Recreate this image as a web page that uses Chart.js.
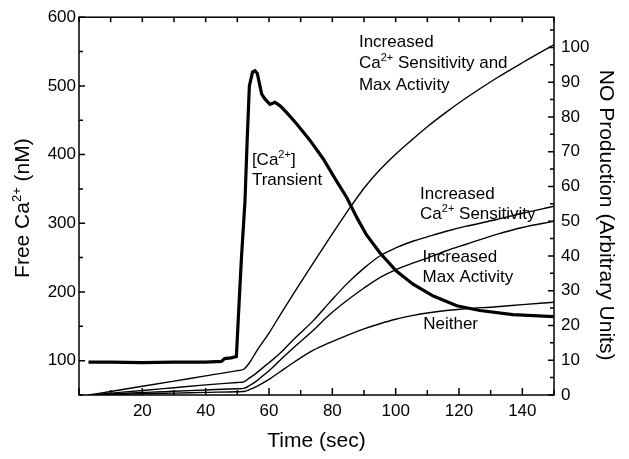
<!DOCTYPE html>
<html>
<head>
<meta charset="utf-8">
<script src="https://cdn.jsdelivr.net/npm/chart.js@4.4.1/dist/chart.umd.min.js"></script>
<style>
  html, body { margin: 0; padding: 0; background: #fff; }
</style>
</head>
<body>
<canvas id="chart" width="629" height="459"></canvas>
<script>
// Ca2+ transient (left axis, nM)
const caTime = [3, 10, 20, 30, 40, 45, 46, 48, 49.7, 50.4, 51.3, 52.4, 53.1, 53.8, 54.8, 55.6, 56.3, 57.7, 58.7, 60.3, 61.9, 63.5, 65.6, 68.7, 72.9, 77.1, 81, 84.5, 88, 90.8, 95, 100.3, 105.6, 111.9, 119.3, 126.6, 137, 150];
const caValues = [98, 98, 97, 98, 98, 99, 103, 104, 106, 170, 250, 331, 420, 500, 520, 522, 518, 488, 481, 473, 476, 471, 461, 445, 421, 394, 364, 338, 306, 283, 257, 230, 211, 194, 180, 173, 167, 164];

// NO production (right axis, arbitrary units)
const noTime = [3, 10, 20, 30, 40, 50, 52, 54, 56, 58, 60, 63.5, 68, 74, 79, 84.5, 90, 95, 100, 105.6, 110, 116, 122, 131.9, 140, 150];
const bothNO = [0, 1.0, 2.5, 4.0, 5.5, 7.0, 7.4, 9.5, 12.5, 15.2, 17.8, 23, 29.5, 38, 45, 52.5, 59.5, 64.8, 69.3, 73.8, 77.2, 81.4, 85.3, 91.2, 95.6, 100.8];
const sensNO = [0, 0.55, 1.3, 2.1, 2.9, 3.6, 3.8, 5, 6.3, 7.8, 9.3, 12, 16.2, 21.4, 26.5, 31.9, 36.5, 40, 42.3, 44.3, 45.5, 47.1, 48.5, 50.5, 52.3, 54.3];
const maxNO = [0, 0.28, 0.7, 1.1, 1.45, 1.8, 1.9, 2.8, 4, 5.5, 7, 10, 13.8, 18.6, 23, 27.1, 30.8, 33.8, 36, 38, 39.4, 41.5, 43.3, 46.2, 48.2, 50];
const neitherNO = [0, 0.14, 0.35, 0.55, 0.75, 0.95, 1.0, 1.6, 2.4, 3.4, 4.5, 6.7, 9.5, 12.9, 15, 17.1, 19, 20.5, 21.8, 22.9, 23.6, 24.3, 24.8, 25.4, 26, 26.7];

const FONT = "'Liberation Sans', Arial, sans-serif";

function pts(xs, ys) {
  return xs.map((x, i) => ({ x: x, y: ys[i] }));
}

// text pieces: [text, isSuperscript]
function richWidth(ctx, parts, size) {
  let w = 0;
  parts.forEach(p => {
    ctx.font = (p[1] ? Math.round(size * 0.62) : size) + 'px ' + FONT;
    w += ctx.measureText(p[0]).width;
  });
  return w;
}
function drawRich(ctx, parts, x, y, size) {
  parts.forEach(p => {
    const s = p[1] ? Math.round(size * 0.62) : size;
    ctx.font = s + 'px ' + FONT;
    ctx.fillText(p[0], x, p[1] ? y - size * 0.4 : y);
    x += ctx.measureText(p[0]).width;
  });
}

// curve labels, anchored at (time, left-axis nM) of the first baseline
const notes = [
  { t: 88.4, ca: 557, gap: 21.5, lines: [[['Increased', 0]], [['Ca', 0], ['2+', 1], [' Sensitivity and', 0]], [['Max Activity', 0]]] },
  { t: 54.6, ca: 385, gap: 20.5, lines: [[['[Ca', 0], ['2+', 1], [']', 0]], [['Transient', 0]]] },
  { t: 107.7, ca: 336, gap: 20, lines: [[['Increased', 0]], [['Ca', 0], ['2+', 1], [' Sensitivity', 0]]] },
  { t: 108.5, ca: 243, gap: 20, lines: [[['Increased', 0]], [['Max Activity', 0]]] },
  { t: 108.7, ca: 146, gap: 20, lines: [[['Neither', 0]]] }
];

const overlay = {
  id: 'overlay',
  afterDraw(chart) {
    const ctx = chart.ctx;
    const a = chart.chartArea;
    const x = chart.scales.x, y = chart.scales.y, y2 = chart.scales.y2;
    ctx.save();
    ctx.strokeStyle = '#000';
    ctx.fillStyle = '#000';
    ctx.lineWidth = 1.5;
    ctx.strokeRect(a.left, a.top, a.right - a.left, a.bottom - a.top);

    // inward tick marks
    ctx.lineWidth = 1.5;
    ctx.beginPath();
    for (let v = 0; v <= 150; v += 10) {
      const px = x.getPixelForValue(v);
      const len = v % 20 === 0 ? 7 : 5;
      ctx.moveTo(px, a.bottom); ctx.lineTo(px, a.bottom - len);
      ctx.moveTo(px, a.top); ctx.lineTo(px, a.top + 5);
    }
    for (let v = 50; v <= 600; v += 50) {
      const py = y.getPixelForValue(v);
      const len = v % 100 === 0 ? 6 : 4;
      ctx.moveTo(a.left, py); ctx.lineTo(a.left + len, py);
    }
    for (let v = 0; v <= 105; v += 5) {
      const py = y2.getPixelForValue(v);
      const len = v % 10 === 0 ? 6 : 4;
      ctx.moveTo(a.right, py); ctx.lineTo(a.right - len, py);
    }
    ctx.stroke();

    // curve labels
    ctx.textBaseline = 'alphabetic';
    ctx.textAlign = 'left';
    notes.forEach(n => {
      const px = x.getPixelForValue(n.t);
      const py = y.getPixelForValue(n.ca);
      n.lines.forEach((ln, i) => drawRich(ctx, ln, px, py + i * n.gap, 17));
    });

    // axis titles
    const cy = (a.top + a.bottom) / 2;
    ctx.font = '21px ' + FONT;
    ctx.textAlign = 'center';
    ctx.fillText('Time (sec)', (a.left + a.right) / 2, 447);

    ctx.textAlign = 'left';
    const leftTitle = [['Free Ca', 0], ['2+', 1], [' (nM)', 0]];
    const lw = richWidth(ctx, leftTitle, 21);
    ctx.save();
    ctx.translate(29, cy + 2);
    ctx.rotate(-Math.PI / 2);
    drawRich(ctx, leftTitle, -lw / 2, 0, 21);
    ctx.restore();

    ctx.save();
    ctx.translate(600, cy + 9);
    ctx.rotate(Math.PI / 2);
    ctx.font = '21px ' + FONT;
    ctx.textAlign = 'center';
    ctx.fillText('NO Production (Arbitrary Units)', 0, 0);
    ctx.restore();
    ctx.restore();
  }
};

const tickFont = { family: FONT, size: 17 };

new Chart(document.getElementById('chart'), {
  type: 'line',
  data: {
    datasets: [
      { label: 'Ca transient', data: pts(caTime, caValues), yAxisID: 'y', borderColor: '#000', borderWidth: 3.2, pointRadius: 0, tension: 0 },
      { label: 'Increased Ca sensitivity and max activity', data: pts(noTime, bothNO), yAxisID: 'y2', borderColor: '#000', borderWidth: 1.4, pointRadius: 0, cubicInterpolationMode: 'monotone' },
      { label: 'Increased Ca sensitivity', data: pts(noTime, sensNO), yAxisID: 'y2', borderColor: '#000', borderWidth: 1.4, pointRadius: 0, cubicInterpolationMode: 'monotone' },
      { label: 'Increased max activity', data: pts(noTime, maxNO), yAxisID: 'y2', borderColor: '#000', borderWidth: 1.4, pointRadius: 0, cubicInterpolationMode: 'monotone' },
      { label: 'Neither', data: pts(noTime, neitherNO), yAxisID: 'y2', borderColor: '#000', borderWidth: 1.4, pointRadius: 0, cubicInterpolationMode: 'monotone' }
    ]
  },
  options: {
    responsive: false,
    animation: false,
    layout: { padding: { top: 14, left: 0, right: 0, bottom: 0 } },
    plugins: { legend: { display: false }, tooltip: { enabled: false } },
    scales: {
      x: {
        type: 'linear', min: 0, max: 150,
        grid: { display: false, drawTicks: false },
        border: { display: false },
        ticks: {
          stepSize: 10, autoSkip: false, maxRotation: 0, padding: 6, color: '#000', font: tickFont,
          callback: v => (v % 20 === 0 && v > 0 && v < 150) ? v : ''
        },
        afterFit: s => { s.height = 64; }
      },
      y: {
        position: 'left', min: 50, max: 600,
        grid: { display: false, drawTicks: false },
        border: { display: false },
        ticks: {
          stepSize: 50, autoSkip: false, padding: 3, color: '#000', font: tickFont,
          callback: v => v % 100 === 0 ? v : ''
        },
        afterFit: s => { s.width = 79; }
      },
      y2: {
        position: 'right', min: 0, max: 108.7,
        grid: { display: false, drawTicks: false },
        border: { display: false },
        ticks: {
          stepSize: 5, autoSkip: false, includeBounds: false, padding: 7, color: '#000', font: tickFont,
          callback: v => Math.abs(v % 10) < 1e-6 ? v : ''
        },
        afterFit: s => { s.width = 75; }
      }
    }
  },
  plugins: [overlay]
});
</script>
</body>
</html>
